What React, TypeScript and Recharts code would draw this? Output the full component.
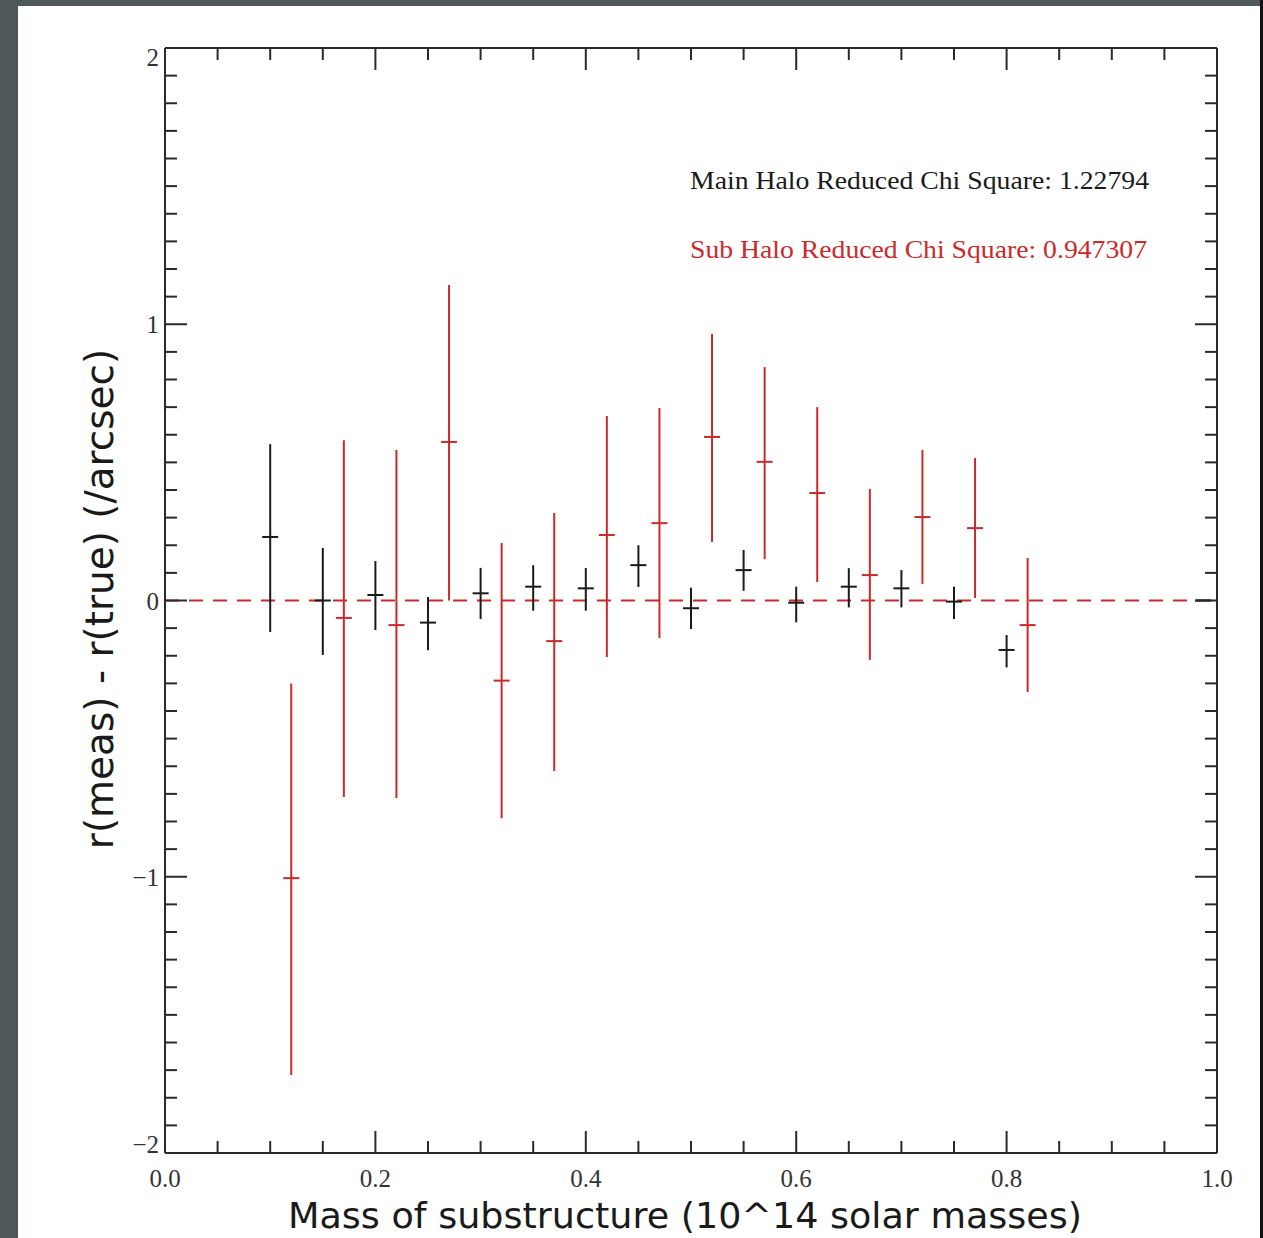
// Residual plot: measured minus true radius vs substructure mass
import React from 'react'
import { ComposedChart, Scatter, XAxis, YAxis, ErrorBar, ReferenceLine } from 'recharts'

// main halo points (black)
const mainMass = [0.1, 0.15, 0.2, 0.25, 0.3, 0.35, 0.4, 0.45, 0.5, 0.55, 0.6, 0.65, 0.7, 0.75, 0.8, 0.987]
const mainValue = [0.23, 0.0, 0.02, -0.08, 0.026, 0.05, 0.044, 0.128, -0.028, 0.11, -0.008, 0.05, 0.044, -0.004, -0.179, 0.0]
const mainLow = [-0.114, -0.197, -0.107, -0.18, -0.067, -0.037, -0.037, 0.049, -0.103, 0.035, -0.079, -0.025, -0.025, -0.067, -0.242, 0.0]
const mainHigh = [0.566, 0.19, 0.143, 0.013, 0.118, 0.128, 0.118, 0.2, 0.046, 0.183, 0.05, 0.117, 0.11, 0.05, -0.125, 0.0]

// sub halo points (red)
const subMass = [0.12, 0.17, 0.22, 0.27, 0.32, 0.37, 0.42, 0.47, 0.52, 0.57, 0.62, 0.67, 0.72, 0.77, 0.82]
const subValue = [-1.005, -0.063, -0.089, 0.574, -0.29, -0.147, 0.237, 0.28, 0.592, 0.502, 0.389, 0.092, 0.302, 0.262, -0.089]
const subLow = [-1.718, -0.711, -0.715, 0.0, -0.788, -0.617, -0.205, -0.136, 0.212, 0.15, 0.067, -0.215, 0.06, 0.009, -0.331]
const subHigh = [-0.3, 0.58, 0.545, 1.142, 0.208, 0.317, 0.668, 0.697, 0.965, 0.845, 0.7, 0.404, 0.545, 0.516, 0.154]

const xMajorLabels = ['0.0', '0.2', '0.4', '0.6', '0.8', '1.0']
const yMajorLabels = ['−2', '−1', '0', '1', '2']

const mainChi = 'Main Halo Reduced Chi Square: 1.22794'
const subChi = 'Sub Halo Reduced Chi Square: 0.947307'

const RED = '#cc2a2a'
const INK = '#1a1a1a'
const AXIS = '#2a2a2a'
const TICK_FONT = '"Liberation Serif", "DejaVu Serif", serif'
const SANS = '"DejaVu Sans", sans-serif'

const xTicks = Array.from({ length: 21 }, (_, i) => Math.round(i * 5) / 100)
const yTicks = Array.from({ length: 41 }, (_, i) => Math.round(-20 + i) / 10)

const toRows = (xs: number[], ys: number[], lo: number[], hi: number[]) =>
  xs.map((x, i) => ({ x, y: ys[i], err: [ys[i] - lo[i], hi[i] - ys[i]] }))

const mainData = toRows(mainMass, mainValue, mainLow, mainHigh)
const subData = toRows(subMass, subValue, subLow, subHigh)

const isMajor = (v: number, step: number) => Math.abs(v / step - Math.round(v / step)) < 1e-6

function BottomTick({ x, y, payload }: any) {
  const v = payload.value
  const major = isMajor(v, 0.2)
  return (
    <g>
      <line x1={x} x2={x} y1={y} y2={y - (major ? 22 : 12)} stroke={AXIS} strokeWidth={2} />
      {major && (
        <text x={x} y={y + 34} textAnchor="middle" fontFamily={TICK_FONT} fontSize={25} fill="#333">
          {xMajorLabels[Math.round(v / 0.2)]}
        </text>
      )}
    </g>
  )
}

function TopTick({ x, y, payload }: any) {
  const major = isMajor(payload.value, 0.2)
  return <line x1={x} x2={x} y1={y} y2={y + (major ? 22 : 12)} stroke={AXIS} strokeWidth={2} />
}

function LeftTick({ x, y, payload }: any) {
  const v = payload.value
  const major = isMajor(v, 1)
  // top and bottom labels are pulled inside like the original plot
  const shift = v > 1.5 ? 10 : v < -1.5 ? -8 : 1
  return (
    <g>
      <line x1={x} x2={x + (major ? 22 : 12)} y1={y} y2={y} stroke={AXIS} strokeWidth={2} />
      {major && (
        <text x={x - 6} y={y + shift + 8} textAnchor="end" fontFamily={TICK_FONT} fontSize={25} fill="#333">
          {yMajorLabels[Math.round(v) + 2]}
        </text>
      )}
    </g>
  )
}

function RightTick({ x, y, payload }: any) {
  const major = isMajor(payload.value, 1)
  return <line x1={x} x2={x - (major ? 22 : 12)} y1={y} y2={y} stroke={AXIS} strokeWidth={2} />
}

const marker = (color: string) => (props: any) => (
  <line x1={props.cx - 8} x2={props.cx + 8} y1={props.cy} y2={props.cy} stroke={color} strokeWidth={2} />
)

export default function App() {
  return (
    <div style={{ position: 'absolute', left: 0, top: 0, width: 1263, height: 1238, background: '#4e585b', overflow: 'hidden' }}>
      <div style={{ position: 'absolute', right: 0, top: 0, width: 3, height: 1238, background: '#111' }} />
      <div style={{ position: 'absolute', left: 18, top: 6, width: 1242, height: 1232, background: '#fff' }} />
      <div style={{ position: 'absolute', left: 0, top: 0 }}>
        <ComposedChart width={1263} height={1238} margin={{ top: 38, right: 36, bottom: 45, left: 105 }}>
          <XAxis xAxisId="b" type="number" dataKey="x" domain={[0, 1]} ticks={xTicks} interval={0}
            height={40} tickSize={0} tickMargin={0} tickLine={false}
            axisLine={{ stroke: AXIS, strokeWidth: 2 }} tick={<BottomTick />} />
          <XAxis xAxisId="t" orientation="top" type="number" dataKey="x" domain={[0, 1]} ticks={xTicks} interval={0}
            height={10} tickSize={0} tickMargin={0} tickLine={false}
            axisLine={{ stroke: AXIS, strokeWidth: 2 }} tick={<TopTick />} />
          <YAxis yAxisId="l" type="number" dataKey="y" domain={[-2, 2]} ticks={yTicks} interval={0}
            width={60} tickSize={0} tickMargin={0} tickLine={false}
            axisLine={{ stroke: AXIS, strokeWidth: 2 }} tick={<LeftTick />} />
          <YAxis yAxisId="r" orientation="right" type="number" dataKey="y" domain={[-2, 2]} ticks={yTicks} interval={0}
            width={10} tickSize={0} tickMargin={0} tickLine={false}
            axisLine={{ stroke: AXIS, strokeWidth: 2 }} tick={<RightTick />} />
          <ReferenceLine xAxisId="b" yAxisId="l" y={0} stroke={RED} strokeWidth={2} strokeDasharray="14 10" />
          <Scatter xAxisId="b" yAxisId="l" data={mainData} isAnimationActive={false} shape={marker(INK)}>
            <ErrorBar dataKey="err" direction="y" width={0} stroke={INK} strokeWidth={2} isAnimationActive={false} />
          </Scatter>
          {/* red series sits on the mirrored top/right axes (same domains) */}
          <Scatter xAxisId="t" yAxisId="r" data={subData} isAnimationActive={false} shape={marker(RED)}>
            <ErrorBar dataKey="err" direction="y" width={0} stroke={RED} strokeWidth={2} isAnimationActive={false} />
          </Scatter>
        </ComposedChart>
      </div>
      <svg width={1263} height={1238} style={{ position: 'absolute', left: 0, top: 0, pointerEvents: 'none' }}>
        <text x={690} y={189} fontFamily={TICK_FONT} fontSize={26} fill={INK}
          textLength={459} lengthAdjust="spacingAndGlyphs">{mainChi}</text>
        <text x={690} y={258} fontFamily={TICK_FONT} fontSize={26} fill={RED}
          textLength={457} lengthAdjust="spacingAndGlyphs">{subChi}</text>
        <text x={288} y={1228} fontFamily={SANS} fontSize={36} fill={INK}
          textLength={794} lengthAdjust="spacingAndGlyphs">
          Mass of substructure (10^14 solar masses)
        </text>
        <text x={113} y={599} textAnchor="middle" transform="rotate(-90, 113, 599)"
          fontFamily={SANS} fontSize={39} fill={INK}>
          r(meas) - r(true) (/arcsec)
        </text>
      </svg>
    </div>
  )
}
